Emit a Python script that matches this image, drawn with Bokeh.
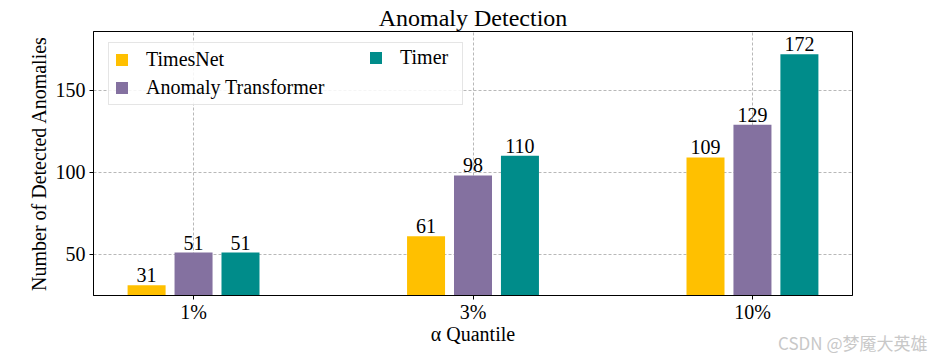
from bokeh.plotting import figure
from bokeh.models import (ColumnDataSource, Range1d, FixedTicker, Legend, LegendItem,
                          LabelSet, Title)
from bokeh.transform import dodge
from bokeh.embed import file_html
from bokeh.resources import INLINE

# ---- data ----
quantiles = ["1%", "3%", "10%"]
series_names = ["TimesNet", "Anomaly Transformer", "Timer"]
timesnet = [31, 61, 109]
anomaly_transformer = [51, 98, 129]
timer = [51, 110, 172]
colors = ["#FFC000", "#8471A0", "#008C8A"]

FONT = "Liberation Serif"
x_idx = list(range(len(quantiles)))

p = figure(width=933, height=353, output_backend="svg", toolbar_location=None,
           x_range=Range1d(-0.358, len(quantiles) - 1 + 0.358),
           y_range=Range1d(24.8, 185.8),
           min_border_left=93, min_border_right=81, min_border_top=31, min_border_bottom=58)

p.title.text = "Anomaly Detection"
p.title.align = "center"
p.title.text_font = FONT
p.title.text_font_size = "24px"
p.title.text_font_style = "normal"
p.title.text_color = "black"
p.title.offset = 0
p.title.standoff = 2

bw = 0.136
offsets = [-0.168, 0.0, 0.168]
values = [timesnet, anomaly_transformer, timer]
renderers = []
for name, vals, off, col in zip(series_names, values, offsets, colors):
    src = ColumnDataSource(dict(x=x_idx, v=vals, t=[str(v) for v in vals]))
    r = p.vbar(x=dodge("x", off, range=p.x_range), top="v", bottom=0, width=bw,
               source=src, fill_color=col, line_color=None)
    renderers.append(r)
    lbl = LabelSet(x=dodge("x", off, range=p.x_range), y="v", text="t", source=src,
                   text_align="center", text_baseline="alphabetic", y_offset=3,
                   text_font=FONT, text_font_size="20px", text_color="black")
    p.add_layout(lbl)


def style_legend(lg):
    lg.label_text_font = FONT
    lg.label_text_font_size = "20px"
    lg.label_text_color = "black"
    lg.glyph_width = 15
    lg.glyph_height = 15
    lg.label_standoff = 17
    lg.spacing = 5
    lg.padding = 5
    lg.margin = 0


# first column of the legend (with the frame)
legend1 = Legend(items=[LegendItem(label=series_names[0], renderers=[renderers[0]]),
                        LegendItem(label=series_names[1], renderers=[renderers[1]])],
                 location=(15, 190))
style_legend(legend1)
legend1.label_width = 311
legend1.border_line_color = "#cccccc"
legend1.background_fill_alpha = 0.85
p.add_layout(legend1)

# second column of the legend
legend2 = Legend(items=[LegendItem(label=series_names[2], renderers=[renderers[2]])],
                 location=(275, 226))
style_legend(legend2)
legend2.border_line_color = None
legend2.background_fill_alpha = 0
p.add_layout(legend2)

# axes
p.xaxis.ticker = FixedTicker(ticks=x_idx)
p.xaxis.major_label_overrides = {i: q for i, q in zip(x_idx, quantiles)}
p.yaxis.ticker = FixedTicker(ticks=[50, 100, 150])
for ax in (p.xaxis, p.yaxis):
    ax.major_label_text_font = FONT
    ax.major_label_text_font_size = "20px"
    ax.major_label_text_color = "black"
    ax.axis_label_text_font = FONT
    ax.axis_label_text_font_size = "20px"
    ax.axis_label_text_font_style = "normal"
    ax.axis_label_text_color = "black"
    ax.minor_tick_line_color = None
    ax.major_tick_in = 0
    ax.major_tick_out = 4
    ax.axis_line_color = "black"
    ax.major_tick_line_color = "black"
p.xaxis.major_label_standoff = 1
p.yaxis.major_label_standoff = 4
p.xaxis.axis_label = "α Quantile"
p.yaxis.axis_label = "Number of Detected Anomalies"
p.xaxis.axis_label_standoff = -3
p.yaxis.axis_label_standoff = 3

p.outline_line_color = "black"
p.outline_line_alpha = 1
p.grid.grid_line_color = "#b8b8b8"
p.grid.grid_line_dash = "3 2"

wm = Title(text="CSDN @梦魇大英雄", align="right", vertical_align="top", offset=-75,
           standoff=-36, text_font="Noto Sans CJK SC", text_font_size="17px",
           text_font_style="normal", text_color="#c8c8c8")
p.add_layout(wm, "below")

open("out.html", "w").write(file_html(p, INLINE))
